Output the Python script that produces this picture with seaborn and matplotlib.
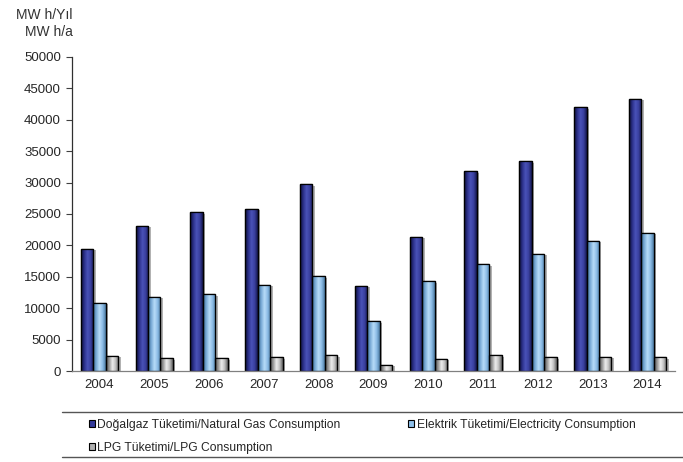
import numpy as np
import pandas as pd
import matplotlib
matplotlib.use("Agg")
import matplotlib.pyplot as plt
import matplotlib.patheffects as pe
from matplotlib.colors import LinearSegmentedColormap
from matplotlib.patches import Patch
from matplotlib.lines import Line2D
import seaborn as sns

years = ["2004", "2005", "2006", "2007", "2008", "2009", "2010", "2011", "2012", "2013", "2014"]
natural_gas = [19500, 23100, 25300, 25800, 29700, 13600, 21400, 31800, 33400, 42000, 43300]
electricity = [10900, 11800, 12200, 13700, 15100, 7900, 14300, 17000, 18700, 20700, 22000]
lpg = [2400, 2000, 2000, 2200, 2500, 950, 1900, 2500, 2200, 2300, 2200]

series_names = [
    "Doğalgaz Tüketimi/Natural Gas Consumption",
    "Elektrik Tüketimi/Electricity Consumption",
    "LPG Tüketimi/LPG Consumption",
]
base_colors = ["#333a9a", "#8ec0ea", "#b0b0b0"]
shades = [
    ["#0c0c30", "#2a2f88", "#4a52b8", "#3a40a0", "#14164a"],
    ["#3a6890", "#78aad6", "#b8dcf8", "#8cbce6", "#4a78a0"],
    ["#505050", "#9a9a9a", "#eeeeee", "#c0c0c0", "#606060"],
]

df = pd.DataFrame({
    "year": years * 3,
    "value": natural_gas + electricity + lpg,
    "series": [series_names[0]] * len(years) + [series_names[1]] * len(years) + [series_names[2]] * len(years),
})

sns.set_style("white")
plt.rcParams["font.family"] = ["Liberation Sans", "DejaVu Sans"]

fig = plt.figure(figsize=(6.83, 4.62), dpi=100)
ax = fig.add_axes([72 / 683, (462 - 371) / 462, (675 - 72) / 683, (371 - 57) / 462])

sns.barplot(data=df, x="year", y="value", hue="series", hue_order=series_names,
            palette=base_colors, width=0.68, gap=0, edgecolor="black", linewidth=0.9,
            legend=False, ax=ax, saturation=1)

# cylindrical shading and drop shadow on every bar
n = len(years)
for i, bar in enumerate(ax.patches):
    s = i // n
    cmap = LinearSegmentedColormap.from_list(f"shade{s}", shades[s])
    x0, y0 = bar.get_x(), bar.get_y()
    w, h = bar.get_width(), bar.get_height()
    grad = np.linspace(0, 1, 64).reshape(1, -1)
    im = ax.imshow(grad, cmap=cmap, aspect="auto", extent=(x0, x0 + w, y0, y0 + h),
                   zorder=bar.get_zorder() + 0.01, interpolation="bilinear")
    im.set_clip_path(bar)
    bar.set_path_effects([pe.SimplePatchShadow(offset=(1.8, -1.0), shadow_rgbFace="#808080", alpha=0.6),
                          pe.Normal()])
    outline = plt.Rectangle((x0, y0), w, h, fill=False, edgecolor="black", linewidth=0.9,
                            zorder=bar.get_zorder() + 0.02)
    ax.add_patch(outline)

ax.set_xlim(-0.5, len(years) - 0.5)
ax.set_ylim(0, 50000)
ax.set_yticks(np.arange(0, 50001, 5000))
ax.set_xlabel("")
ax.set_ylabel("")
ax.set_xticks(np.arange(-0.5, len(years), 1.0), minor=True)
ax.tick_params(axis="x", which="major", length=0, pad=6, labelsize=9.5)
ax.tick_params(axis="x", which="minor", length=4, width=0.8, color="#404040", direction="out")
ax.tick_params(axis="y", which="major", length=4, width=0.8, color="#404040", direction="out",
               left=True, pad=4, labelsize=9.5)
for side in ["top", "right"]:
    ax.spines[side].set_visible(False)
ax.spines["left"].set_color("#303030")
ax.spines["bottom"].set_color("#808080")
ax.spines["left"].set_linewidth(0.9)
ax.spines["bottom"].set_linewidth(0.9)

fig.text(73 / 683, 1 - 15 / 462, "MW h/Yıl", ha="right", va="center", fontsize=10, color="#333333")
fig.text(73 / 683, 1 - 32 / 462, "MW h/a", ha="right", va="center", fontsize=10, color="#333333")

# legend with rules above and below
fig.add_artist(Line2D([62 / 683, 1.0], [1 - 412 / 462] * 2, color="#555555", linewidth=1.0))
fig.add_artist(Line2D([62 / 683, 1.0], [1 - 457 / 462] * 2, color="#555555", linewidth=1.0))
handles = [Patch(facecolor=base_colors[k], edgecolor="black", linewidth=0.8, label=series_names[k])
           for k in [0, 2, 1]]
fig.legend(handles=handles, ncol=2, loc="upper left", bbox_to_anchor=(89 / 683, 1 - 419 / 462),
           frameon=False, fontsize=8.7, handlelength=0.5, handleheight=0.5, handletextpad=0.2,
           columnspacing=5.6, labelspacing=0.9, borderpad=0.0, borderaxespad=0.0)

fig.savefig("out.png", dpi=100)
